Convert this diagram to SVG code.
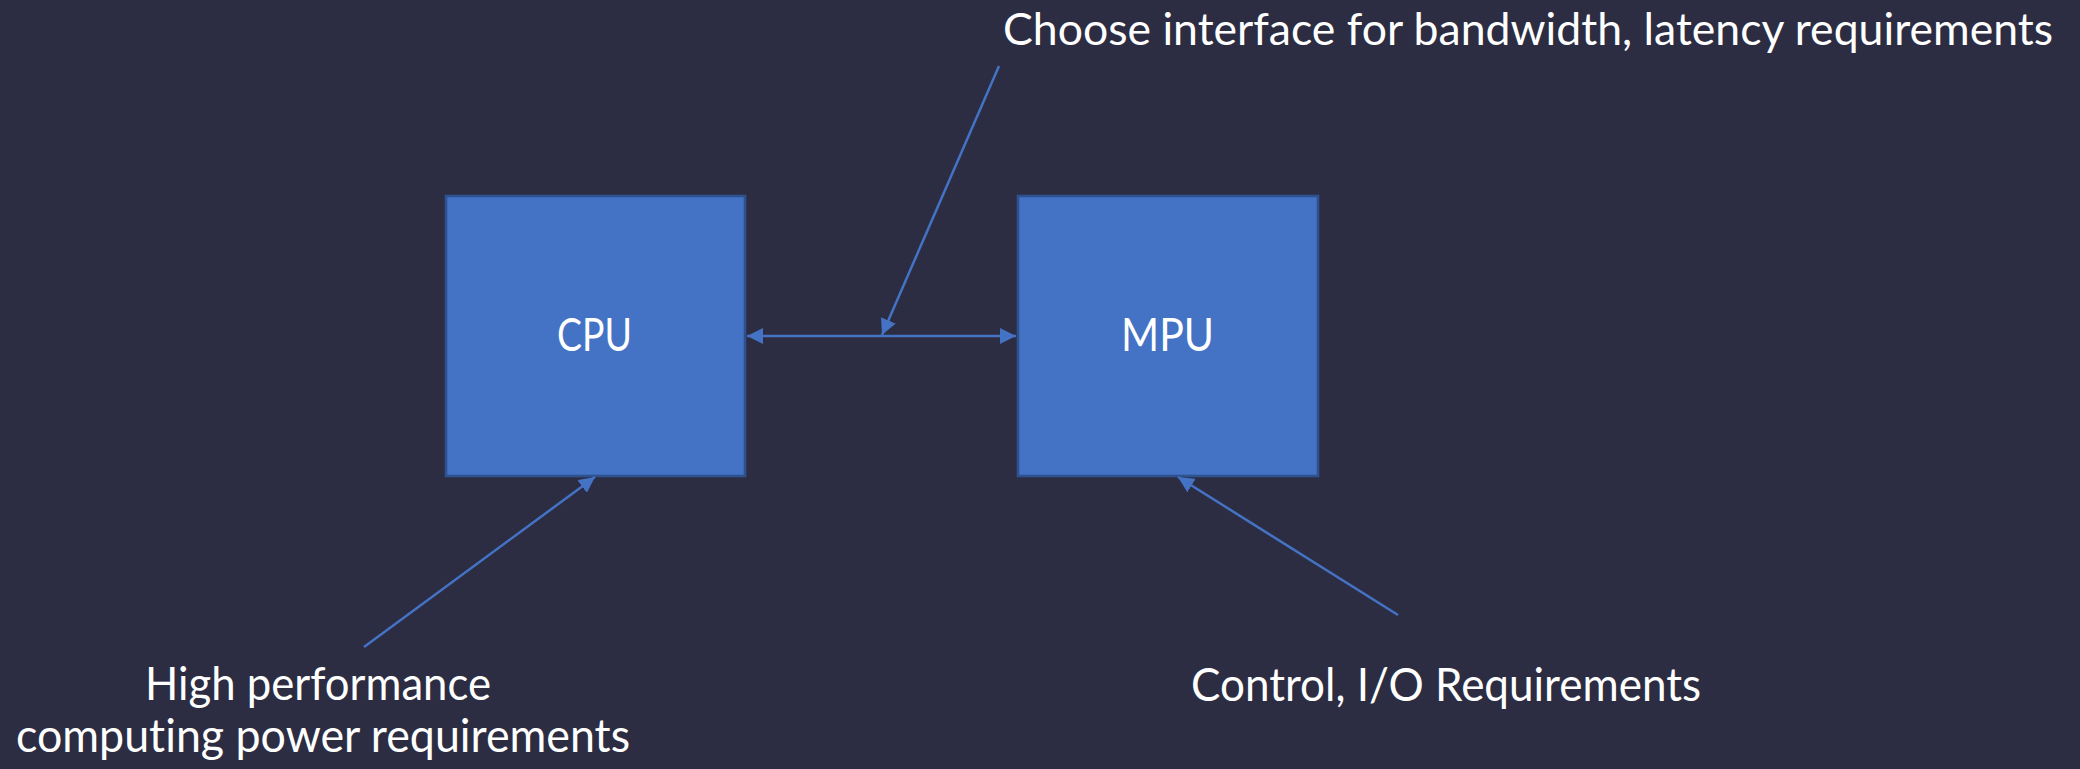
<svg xmlns="http://www.w3.org/2000/svg" width="2080" height="769" viewBox="0 0 2080 769">
  <style>
    .bg { fill: #2c2d42; }
    .box { fill: #4472c4; stroke: #2f528f; stroke-width: 2.6; }
    .lbl { font-family: Lato, "Open Sans", "Liberation Sans", sans-serif; font-size: 46px; fill: #ffffff; font-variant-ligatures: none; }
    .top { font-size: 44px; }
    .wire { stroke: #4472c4; stroke-width: 2.5; fill: none; }
  </style>
  <defs>
    <marker id="head" viewBox="0 0 16 16" refX="16" refY="8" markerWidth="16" markerHeight="16" markerUnits="userSpaceOnUse" orient="auto-start-reverse">
      <path d="M0,0 L16,8 L0,16 Z" fill="#4472c4"/>
    </marker>
  </defs>

  <rect class="bg" x="0" y="0" width="2080" height="769"/>

  <!-- processor blocks -->
  <g id="cpu">
    <rect class="box" x="446" y="196" width="299" height="280"/>
    <text class="lbl" x="557" y="351" textLength="75" lengthAdjust="spacingAndGlyphs">CPU</text>
  </g>
  <g id="mpu">
    <rect class="box" x="1018" y="196" width="300" height="280"/>
    <text class="lbl" x="1121" y="351" textLength="93" lengthAdjust="spacingAndGlyphs">MPU</text>
  </g>

  <!-- annotations -->
  <g id="note-interface">
    <text class="lbl top" x="1003" y="45" textLength="1050" lengthAdjust="spacingAndGlyphs">Choose interface for bandwidth, latency requirements</text>
  </g>
  <g id="note-cpu">
    <text class="lbl" x="145" y="700" textLength="346" lengthAdjust="spacingAndGlyphs">High performance</text>
    <text class="lbl" x="16" y="752" textLength="614" lengthAdjust="spacingAndGlyphs">computing power requirements</text>
  </g>
  <g id="note-mpu">
    <text class="lbl" x="1191" y="701" textLength="510" lengthAdjust="spacingAndGlyphs">Control, I/O Requirements</text>
  </g>

  <!-- connectors -->
  <g id="connectors">
    <line class="wire" x1="747" y1="336" x2="1016" y2="336" marker-start="url(#head)" marker-end="url(#head)"/>
    <line class="wire" x1="999" y1="66" x2="882" y2="335" marker-end="url(#head)"/>
    <line class="wire" x1="364" y1="647" x2="595" y2="477" marker-end="url(#head)"/>
    <line class="wire" x1="1398" y1="615" x2="1178" y2="477" marker-end="url(#head)"/>
  </g>
</svg>
